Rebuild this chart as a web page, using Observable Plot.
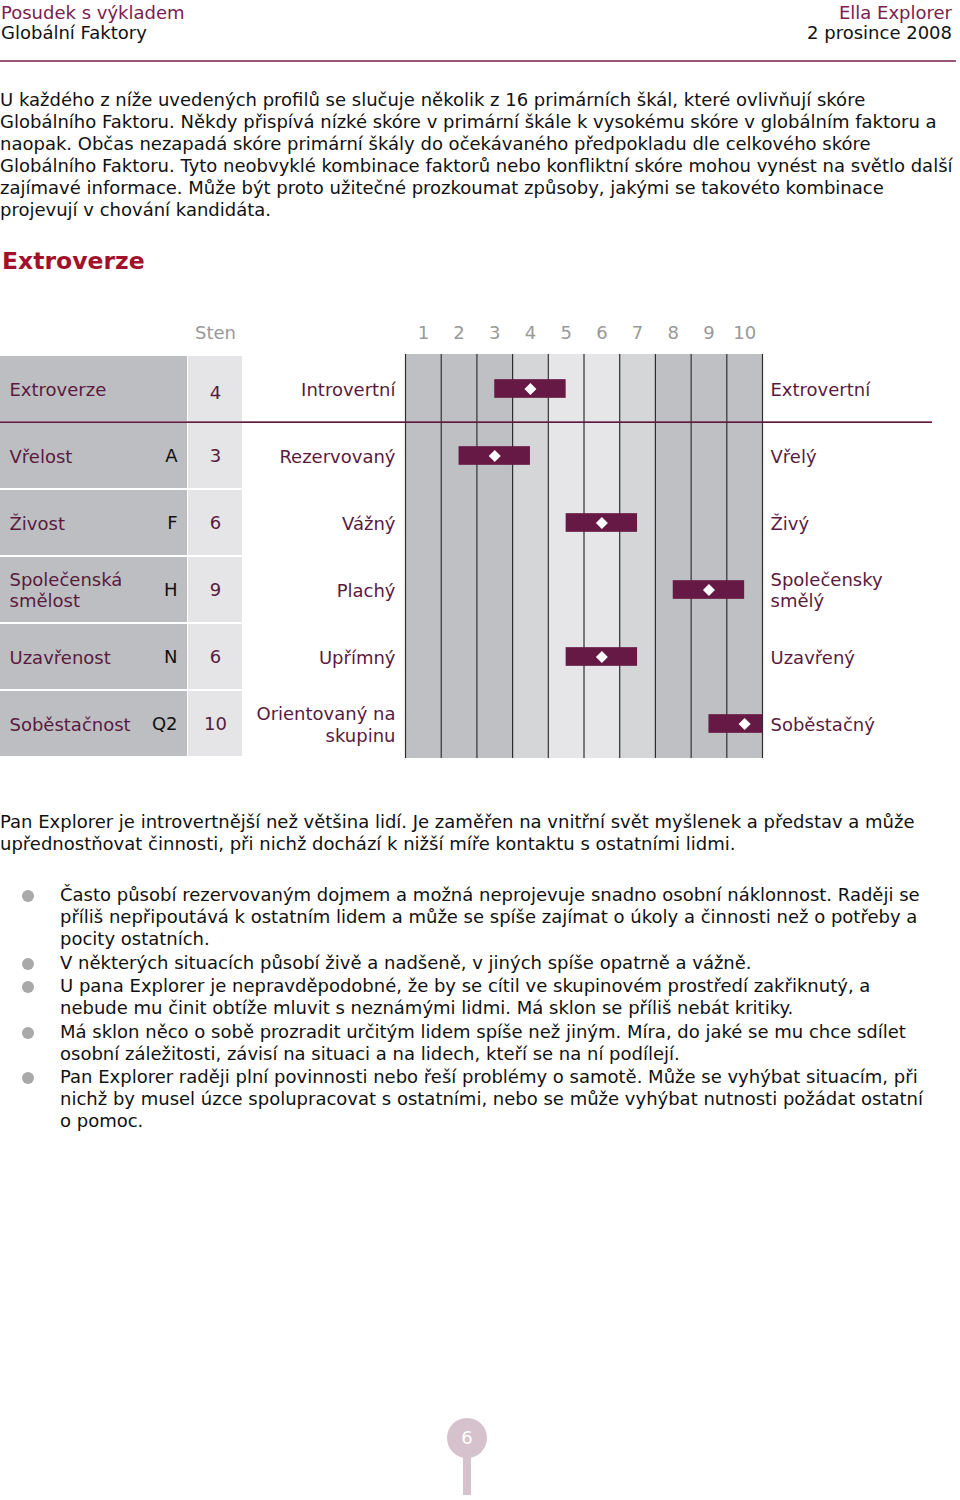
<!DOCTYPE html>
<html>
<head>
<meta charset="utf-8">
<script src="https://cdn.jsdelivr.net/npm/d3@7"></script>
<script src="https://cdn.jsdelivr.net/npm/@observablehq/plot@0.6"></script>
<style>
  html, body { margin: 0; padding: 0; background: #fff; }
  #page { position: relative; width: 960px; height: 1500px; overflow: hidden;
          font-family: "DejaVu Sans", Verdana, sans-serif; font-size: 18px; color: #111; }
  .abs { position: absolute; white-space: nowrap; line-height: 22px; }
  .maroon { color: #7a2150; }
  .para { position: absolute; left: 0; line-height: 22px; white-space: nowrap; }
  ul.bul { position: absolute; left: 0; top: 884px; margin: 0; padding: 0; list-style: none; }
  ul.bul li { position: relative; padding-left: 60px; line-height: 22px; margin-bottom: 1.5px; white-space: nowrap; }
  ul.bul li::before { content: ""; position: absolute; left: 22px; top: 6px; width: 12px; height: 12px;
          border-radius: 50%; background: #a9a9a9; }
  #chart { position: absolute; left: 0; top: 310px; }
</style>
</head>
<body>
<div id="page">
  <div class="abs maroon" style="left:1px;top:2px;">Posudek s výkladem</div>
  <div class="abs" style="left:1px;top:22px;">Globální Faktory</div>
  <div class="abs maroon" style="right:8px;top:2px;">Ella Explorer</div>
  <div class="abs" style="right:8px;top:22px;">2 prosince 2008</div>
  <div style="position:absolute;left:0;top:60px;width:956px;height:2px;background:#9a5677;"></div>

  <div class="para" style="top:89px;">U každého z níže uvedených profilů se slučuje několik z 16 primárních škál, které ovlivňují skóre<br>Globálního Faktoru. Někdy přispívá nízké skóre v primární škále k vysokému skóre v globálním faktoru a<br>naopak. Občas nezapadá skóre primární škály do očekávaného předpokladu dle celkového skóre<br>Globálního Faktoru. Tyto neobvyklé kombinace faktorů nebo konfliktní skóre mohou vynést na světlo další<br>zajímavé informace. Může být proto užitečné prozkoumat způsoby, jakými se takovéto kombinace<br>projevují v chování kandidáta.</div>

  <div class="abs" style="left:2px;top:246px;font-size:23.5px;font-weight:bold;color:#a3102a;line-height:30px;">Extroverze</div>

  <div id="chart"></div>

  <div class="para" style="top:811px;">Pan Explorer je introvertnější než většina lidí. Je zaměřen na vnitřní svět myšlenek a představ a může<br>upřednostňovat činnosti, při nichž dochází k nižší míře kontaktu s ostatními lidmi.</div>

  <ul class="bul">
    <li>Často působí rezervovaným dojmem a možná neprojevuje snadno osobní náklonnost. Raději se<br>příliš nepřipoutává k ostatním lidem a může se spíše zajímat o úkoly a činnosti než o potřeby a<br>pocity ostatních.</li>
    <li>V některých situacích působí živě a nadšeně, v jiných spíše opatrně a vážně.</li>
    <li>U pana Explorer je nepravděpodobné, že by se cítil ve skupinovém prostředí zakřiknutý, a<br>nebude mu činit obtíže mluvit s neznámými lidmi. Má sklon se příliš nebát kritiky.</li>
    <li>Má sklon něco o sobě prozradit určitým lidem spíše než jiným. Míra, do jaké se mu chce sdílet<br>osobní záležitosti, závisí na situaci a na lidech, kteří se na ní podílejí.</li>
    <li>Pan Explorer raději plní povinnosti nebo řeší problémy o samotě. Může se vyhýbat situacím, při<br>nichž by musel úzce spolupracovat s ostatními, nebo se může vyhýbat nutnosti požádat ostatní<br>o pomoc.</li>
  </ul>

  <div style="position:absolute;left:463px;top:1450px;width:8px;height:45px;background:#d5c2cc;"></div>
  <div style="position:absolute;left:447px;top:1418px;width:40px;height:40px;border-radius:50%;background:#d5c2cc;color:#fff;text-align:center;line-height:40px;font-size:18px;">6</div>
</div>

<script>
// ---- data ----
const factors = ["Extroverze", "Vřelost", "Živost", "Společenská\nsmělost", "Uzavřenost", "Soběstačnost"];
const codes = ["", "A", "F", "H", "N", "Q2"];
const stens = [4, 3, 6, 9, 6, 10];
const leftPoles = ["Introvertní", "Rezervovaný", "Vážný", "Plachý", "Upřímný", "Orientovaný na\nskupinu"];
const rightPoles = ["Extrovertní", "Vřelý", "Živý", "Společensky\nsmělý", "Uzavřený", "Soběstačný"];
const stenTicks = [1, 2, 3, 4, 5, 6, 7, 8, 9, 10];
const stenHeader = "Sten";

// ---- build ----
const rows = factors.map((f, i) => ({
  name: f, code: codes[i], sten: stens[i], left: leftPoles[i], right: rightPoles[i]
}));

const W = 960, H = 450, mTop = 44, mBottom = 2, mLeft = 405, mRight = 198;
const lo = 0.5, hi = 10.5;
const xs = d3.scaleLinear().domain([lo, hi]).range([mLeft, W - mRight]);
const px = (p) => xs.invert(p); // page pixel -> sten units for decorative table cells
const bw = (H - mTop - mBottom) / factors.length;

const maroonText = "#5a1a40";
const barColor = "#661944";
const shade = (s) => (s <= 3 || s >= 8) ? "#bfc0c3" : (s === 4 || s === 7) ? "#d5d6d8" : "#e6e6e8";
const bounds = [lo, ...stenTicks.map(s => s + 0.5)];

const chart = Plot.plot({
  width: W, height: H,
  marginTop: mTop, marginBottom: mBottom, marginLeft: mLeft, marginRight: mRight,
  style: { fontFamily: "DejaVu Sans, Verdana, sans-serif", background: "transparent" },
  x: { domain: [lo, hi], axis: null },
  y: { domain: factors, axis: null, padding: 0 },
  marks: [
    // left table cells
    Plot.barX(rows, { x1: px(0), x2: px(187), y: "name", fill: "#bdbec1", insetTop: 1, insetBottom: 1 }),
    Plot.barX(rows, { x1: px(188), x2: px(242), y: "name", fill: "#e5e5e7", insetTop: 1, insetBottom: 1 }),
    // sten columns
    Plot.rect(stenTicks, { x1: s => s - 0.5, x2: s => s + 0.5, fill: s => shade(s) }),
    Plot.ruleX(bounds, { stroke: "#2e2e2e", strokeWidth: 1.2 }),
    // separator below global factor
    Plot.barX([rows[0]], { x1: px(0), x2: px(932), y: "name", fill: "#5e1a40",
      insetTop: bw - 1, insetBottom: -1 }),
    // score bars and diamonds
    Plot.barX(rows, { x1: d => Math.max(d.sten - 1, lo), x2: d => Math.min(d.sten + 1, hi), y: "name",
      fill: barColor, insetTop: (bw - 19) / 2, insetBottom: (bw - 19) / 2 }),
    Plot.dot(rows, { x: "sten", y: "name", symbol: "diamond2", fill: "white", stroke: "none", r: 5.4 }),
    // header
    Plot.text(stenTicks, { x: d => d, frameAnchor: "top", dy: -21, lineAnchor: "middle",
      text: d => String(d), fill: "#999", fontSize: 18 }),
    Plot.text([stenHeader], { x: px(215), frameAnchor: "top", dy: -21, lineAnchor: "middle",
      text: d => d, fill: "#999", fontSize: 18 }),
    // table texts
    Plot.text(rows, { x: px(9), y: "name", text: "name", textAnchor: "start", fill: maroonText,
      fontSize: 18, lineHeight: 1.18 }),
    Plot.text(rows, { x: px(177), y: "name", text: "code", textAnchor: "end", fill: "#111", fontSize: 18 }),
    Plot.text(rows.slice(0, 1), { x: px(215), y: "name", text: d => String(d.sten), fill: maroonText,
      fontSize: 18, dy: 4 }),
    Plot.text(rows.slice(1), { x: px(215), y: "name", text: d => String(d.sten), fill: maroonText,
      fontSize: 18 }),
    Plot.text(rows, { x: px(395), y: "name", text: "left", textAnchor: "end", fill: maroonText,
      fontSize: 18, lineHeight: 1.2 }),
    Plot.text(rows, { x: px(770), y: "name", text: "right", textAnchor: "start", fill: maroonText,
      fontSize: 18, lineHeight: 1.18 })
  ]
});
document.getElementById("chart").appendChild(chart);
</script>
</body>
</html>
